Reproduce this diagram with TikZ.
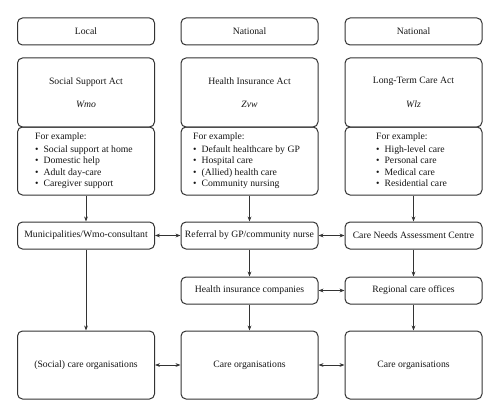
\documentclass[tikz,border=0pt]{standalone}
\usepackage{fontspec}
\setmainfont{Liberation Serif}
\usetikzlibrary{arrows.meta}
\definecolor{linec}{HTML}{333333}
\definecolor{textc}{HTML}{141414}
\begin{document}
\begin{tikzpicture}[x=1pt,y=-1pt,
  box/.style={draw=linec,line width=1pt,rounded corners=5pt,minimum width=137pt,inner sep=0pt,text=textc,font=\fontsize{9.7}{11.5}\selectfont,align=center},
  sbox/.style={box,minimum height=27pt},
  tbox/.style={box,minimum height=68pt},
  lst/.style={text=textc,font=\fontsize{9.7}{11.5}\selectfont,inner sep=0pt,anchor=west},
  arr/.style={draw=linec,line width=1pt,-{Stealth[length=5pt,width=3.8pt]}},
  darr/.style={draw=linec,line width=1pt,{Stealth[length=5pt,width=3.8pt]}-{Stealth[length=5pt,width=3.8pt]}}
]
\useasboundingbox (0,0) rectangle (500,417);
% row 1
\node[sbox] (h1) at (86,31.5) {Local};
\node[sbox] (h2) at (249.5,31.5) {National};
\node[sbox] (h3) at (413.5,31.5) {National};
% acts
\node[box,minimum height=69pt] (a1) at (86,92.5) {Social Support Act\\[12pt]\textit{Wmo}};
\node[box,minimum height=69pt] (a2) at (249.5,92.5) {Health Insurance Act\\[12pt]\textit{Zvw}};
\node[box,minimum height=69pt] (a3) at (413.5,92.5) {Long-Term Care Act\\[12pt]\textit{Wlz}};
% examples
\node[tbox] (e1) at (86,161) {};
\node[tbox] (e2) at (249.5,161) {};
\node[tbox] (e3) at (413.5,161) {};
\newcommand{\exlist}[4]{\begin{tabular}{@{}l@{\hspace{5pt}}l@{}}\multicolumn{2}{@{}l@{}}{For example:}\\[1pt] \textbullet & #1\\ \textbullet & #2\\ \textbullet & #3\\ \textbullet & #4\end{tabular}}
\node[lst] (t1) at (35,161) {\exlist{Social support at home}{Domestic help}{Adult day-care}{Caregiver support}};
\node[lst] (t2) at (193,161) {\exlist{Default healthcare by GP}{Hospital care}{(Allied) health care}{Community nursing}};
\node[lst] (t3) at (376,161) {\exlist{High-level care}{Personal care}{Medical care}{Residential care}};
% row 4
\node[sbox] (m1) at (86,235.5) {Municipalities/Wmo-consultant};
\node[sbox] (m2) at (249.5,235.5) {Referral by GP/community nurse};
\node[sbox] (m3) at (413.5,235.5) {Care Needs Assessment Centre};
% row 5
\node[sbox] (r2) at (249.5,290.5) {Health insurance companies};
\node[sbox] (r3) at (413.5,290.5) {Regional care offices};
% row 6
\node[tbox] (c1) at (86,365) {(Social) care organisations};
\node[tbox] (c2) at (249.5,365) {Care organisations};
\node[tbox] (c3) at (413.5,365) {Care organisations};
% vertical arrows
\draw[arr] (e1.south) -- (m1.north);
\draw[arr] (e2.south) -- (m2.north);
\draw[arr] (e3.south) -- (m3.north);
\draw[arr] (m1.south) -- (c1.north);
\draw[arr] (m2.south) -- (r2.north);
\draw[arr] (m3.south) -- (r3.north);
\draw[arr] (r2.south) -- (c2.north);
\draw[arr] (r3.south) -- (c3.north);
% horizontal arrows
\draw[darr] (m1.east) -- (m2.west);
\draw[darr] (m2.east) -- (m3.west);
\draw[darr] (r2.east) -- (r3.west);
\draw[darr] (c1.east) -- (c2.west);
\draw[darr] (c2.east) -- (c3.west);
\end{tikzpicture}
\end{document}
